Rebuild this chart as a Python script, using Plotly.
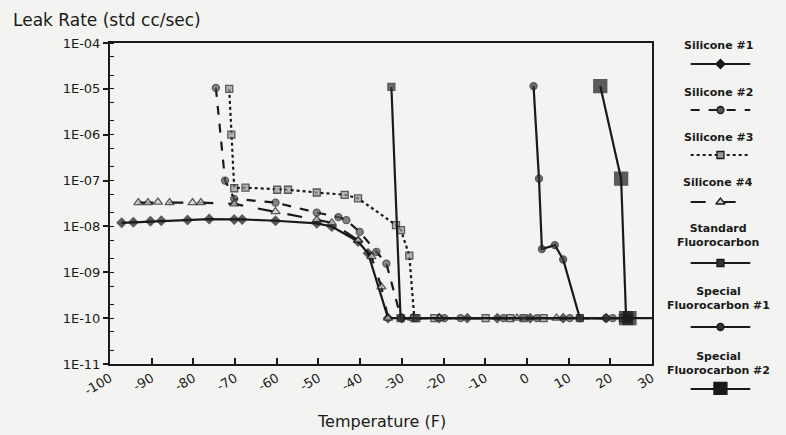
import plotly.graph_objects as go

# ---------------- data ----------------
silicone1_T = [-97.2, -94.4, -90.3, -87.7, -81.4, -76.2, -70.2, -68.3, -60.3, -50.4, -46.8,
               -40.5, -38.1, -33.3, -30.0, -21.0, -14.3, -7.1, 0.8, 8.7, 19.0]
silicone1_L = [1.2e-8, 1.23e-8, 1.3e-8, 1.33e-8, 1.38e-8, 1.45e-8, 1.42e-8, 1.42e-8, 1.33e-8,
               1.17e-8, 1.0e-8, 4.7e-9, 2.6e-9, 1e-10, 1e-10, 1e-10, 1e-10, 1e-10, 1e-10,
               1e-10, 1e-10]

silicone2_T = [-74.6, -72.4, -70.2, -60.3, -50.4, -45.2, -43.3, -40.1, -36.1, -33.7, -30.2,
               -19.8, -15.9, -5.6, 2.4, 10.3, 20.6]
silicone2_L = [1.05e-5, 1e-7, 4e-8, 3.3e-8, 2e-8, 1.6e-8, 1.37e-8, 7.6e-9, 2.8e-9, 1.55e-9,
               1e-10, 1e-10, 1e-10, 1e-10, 1e-10, 1e-10, 1e-10]

silicone3_T = [-71.4, -70.9, -70.2, -67.5, -59.9, -57.3, -50.4, -43.7, -40.5, -31.4, -30.2,
               -28.2, -27.0, -22.2, -9.9, -4.0, 4.0, 23.0]
silicone3_L = [1e-5, 1e-6, 6.8e-8, 7e-8, 6.3e-8, 6.3e-8, 5.5e-8, 4.9e-8, 4.1e-8, 1.07e-8,
               8.3e-9, 2.3e-9, 1e-10, 1e-10, 1e-10, 1e-10, 1e-10, 1e-10]

silicone4_T = [-93.2, -90.9, -88.5, -85.7, -80.2, -78.2, -70.2, -60.3, -50.4, -46.8, -40.5,
               -37.3, -34.9, -33.3, -27.5, -21.0, -2.4, 7.1]
silicone4_L = [3.3e-8, 3.3e-8, 3.4e-8, 3.3e-8, 3.3e-8, 3.3e-8, 3.1e-8, 2.1e-8, 1.4e-8, 1.2e-8,
               5e-9, 2.2e-9, 4.8e-10, 1e-10, 1e-10, 1e-10, 1e-10, 1e-10]

stdfluoro_T = [-32.5, -30.3, -26.5, -0.8, 12.7, 24.0]
stdfluoro_L = [1.1e-5, 1e-10, 1e-10, 1e-10, 1e-10, 1e-10]

special1_T = [1.6, 2.9, 3.6, 6.7, 8.7, 12.7, 19.0, 24.6]
special1_L = [1.15e-5, 1.1e-7, 3.2e-9, 3.9e-9, 1.9e-9, 1e-10, 1e-10, 1e-10]

special2_T = [17.6, 22.6, 23.8, 24.6, 30.0]
special2_L = [1.15e-5, 1.1e-7, 1e-10, 1e-10, 1e-10]

x_ticks = [-100, -90, -80, -70, -60, -50, -40, -30, -20, -10, 0, 10, 20, 30]
y_tickvals = [1e-11, 1e-10, 1e-9, 1e-8, 1e-7, 1e-6, 1e-5, 1e-4]
y_ticktext = ["1E-11", "1E-10", "1E-09", "1E-08", "1E-07", "1E-06", "1E-05", "1E-04"]

names = ["Silicone #1", "Silicone #2", "Silicone #3", "Silicone #4",
         "Standard<br>Fluorocarbon", "Special<br>Fluorocarbon #1", "Special<br>Fluorocarbon #2"]

# ---------------- styles ----------------
INK = "#1a1a1a"
BG = "#f3f3f1"
FONT = "DejaVu Sans"
styles = [
    dict(dash="solid", symbol="diamond", size=7, fill=INK),
    dict(dash="dash", symbol="circle", size=7, fill="#555555"),
    dict(dash="dot", symbol="square", size=7, fill="#9a9a9a"),
    dict(dash="longdash", symbol="triangle-up", size=8, fill="#cfcfcf"),
    dict(dash="solid", symbol="square", size=7, fill="#333333"),
    dict(dash="solid", symbol="circle", size=7, fill="#333333"),
    dict(dash="solid", symbol="square", size=13, fill=INK),
]
series = [(silicone1_T, silicone1_L), (silicone2_T, silicone2_L), (silicone3_T, silicone3_L),
          (silicone4_T, silicone4_L), (stdfluoro_T, stdfluoro_L), (special1_T, special1_L),
          (special2_T, special2_L)]

fig = go.Figure()
for (xs, ys), st, nm in zip(series, styles, names):
    sizes = [st["size"] if x < 30 else 0 for x in xs]
    fig.add_trace(go.Scatter(
        x=xs, y=ys, mode="lines+markers", name=nm, showlegend=False,
        line=dict(color=INK, width=2.2, dash=st["dash"]),
        marker=dict(symbol=st["symbol"], size=sizes, color=st["fill"],
                    line=dict(color=INK, width=1.3)),
    ))

# ---------------- custom legend (text above, sample below) ----------------
# legend axis coordinates are page pixels in the legend column
leg_text_y = [45, 92, 137, 182, 235, 298, 363]
leg_line_y = [64, 110, 155, 202, 263, 327, 389]
for nm, st, ty, ly in zip(names, styles, leg_text_y, leg_line_y):
    fig.add_trace(go.Scatter(x=[695, 755], y=[ly, ly], mode="lines", xaxis="x2", yaxis="y2",
                             showlegend=False, hoverinfo="skip",
                             line=dict(color=INK, width=2, dash=st["dash"])))
    fig.add_trace(go.Scatter(x=[725], y=[ly], mode="markers", xaxis="x2", yaxis="y2",
                             showlegend=False, hoverinfo="skip",
                             marker=dict(symbol=st["symbol"], size=st["size"], color=st["fill"],
                                         line=dict(color=INK, width=1.3))))
    fig.add_annotation(x=723, y=ty, xref="x2", yref="y2", text="<b>%s</b>" % nm,
                       showarrow=False, xanchor="center", yanchor="middle",
                       font=dict(family=FONT, size=11, color=INK))

W, H = 786, 435
L_M, R_M, T_M, B_M = 110, 0, 43, 40
PW, PH = W - L_M - R_M, H - T_M - B_M


def px(xp):
    return (xp - L_M) / PW


def py(yp):
    return (H - B_M - yp) / PH


fig.update_layout(
    width=W, height=H,
    margin=dict(l=L_M, r=R_M, t=T_M, b=B_M),
    paper_bgcolor=BG, plot_bgcolor=BG,
    font=dict(family=FONT, color=INK, size=13),
    xaxis=dict(domain=[0, px(656)], range=[-100, 30], tickvals=x_ticks,
               ticktext=[str(v) for v in x_ticks], tickangle=-30,
               ticks="inside", ticklen=6, tickwidth=1.5, tickcolor=INK,
               showline=True, linecolor=INK, linewidth=2, mirror=True,
               showgrid=False, zeroline=False, tickfont=dict(size=13)),
    yaxis=dict(domain=[py(364), 1], type="log", range=[-11, -4],
               tickvals=y_tickvals, ticktext=y_ticktext,
               ticks="outside", ticklen=5, tickwidth=1.5, tickcolor=INK,
               minor=dict(ticks="inside", ticklen=4, tickcolor=INK, tickwidth=1, showgrid=False),
               showline=True, linecolor=INK, linewidth=2, mirror=True,
               showgrid=False, zeroline=False, tickfont=dict(size=13)),
    xaxis2=dict(domain=[px(660), 1], range=[660, 786], visible=False, anchor="y2",
                fixedrange=True),
    yaxis2=dict(domain=[0, 1], range=[395, 43], visible=False, anchor="x2",
                fixedrange=True),
)

fig.add_annotation(x=px(10), y=py(20), xref="paper", yref="paper", text="Leak Rate (std cc/sec)",
                   showarrow=False, xanchor="left", yanchor="middle",
                   font=dict(family=FONT, size=17, color=INK))
fig.add_annotation(x=px(384), y=py(421), xref="paper", yref="paper", text="Temperature (F)",
                   showarrow=False, xanchor="center", yanchor="middle",
                   font=dict(family=FONT, size=16, color=INK))

fig.write_html("out.html",
               config={"displayModeBar": False},
               post_script="document.body.style.margin='0';"
                           "document.body.style.overflow='hidden';"
                           "document.body.style.background='%s';" % BG)
